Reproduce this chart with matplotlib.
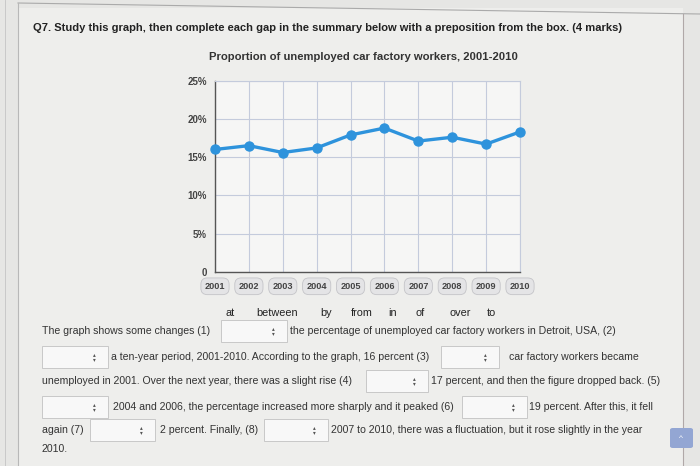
import numpy as np
import matplotlib.pyplot as plt
from matplotlib.patches import Rectangle, FancyBboxPatch
from matplotlib.lines import Line2D

years = ['2001', '2002', '2003', '2004', '2005', '2006', '2007', '2008', '2009', '2010']
unemployed = [16.0, 16.5, 15.6, 16.2, 17.9, 18.8, 17.1, 17.6, 16.7, 18.3]
ytick_vals = [0, 5, 10, 15, 20, 25]
ytick_labels = ['0', '5%', '10%', '15%', '20%', '25%']

question = 'Q7. Study this graph, then complete each gap in the summary below with a preposition from the box. (4 marks)'
chart_title = 'Proportion of unemployed car factory workers, 2001-2010'
word_box = ['at', 'between', 'by', 'from', 'in', 'of', 'over', 'to']

W, H = 700, 466
plt.rcParams['font.family'] = ['Liberation Sans', 'DejaVu Sans']

fig = plt.figure(figsize=(7, 4.66), dpi=100, facecolor='#e6e6e4')

def fx(x):
    return x / W

def fy(y):
    return 1 - y / H

# page card
fig.patches.append(Rectangle((fx(18), 0), fx(683) - fx(18), fy(8), transform=fig.transFigure,
                             facecolor='#eeeeec', edgecolor='none', zorder=-5))
fig.add_artist(Line2D([fx(18), fx(700)], [fy(3), fy(14)], color='#aaaaaa', lw=0.8, zorder=-4))
fig.add_artist(Line2D([fx(18), fx(18)], [fy(3), 0], color='#b8b8b8', lw=0.8, zorder=-4))
fig.add_artist(Line2D([fx(5), fx(5)], [1, 0], color='#c4c4c4', lw=0.6, zorder=-4))
fig.add_artist(Line2D([fx(683), fx(683)], [fy(14), 0], color='#b0a8a8', lw=0.8, zorder=-4))

fig.text(fx(33), fy(28), question, fontsize=8.0, fontweight='bold', color='#222222', va='center')
fig.text(fx(363), fy(57), chart_title, fontsize=8.1, fontweight='bold', color='#333333',
         va='center', ha='center')

# chart
ax = fig.add_axes([fx(215), fy(271.7), fx(520) - fx(215), (271.7 - 80.7) / H])
ax.set_facecolor('#f6f6f5')
x = np.arange(len(years))
ax.plot(x, unemployed, color='#2e93dc', lw=2.4, marker='o', markersize=6.5, zorder=3, clip_on=False)
ax.set_xlim(0, len(years) - 1)
ax.set_ylim(0, 25)
ax.set_xticks(x)
ax.set_yticks(ytick_vals)
ax.set_yticklabels(ytick_labels, fontsize=7, fontweight='bold', color='#444444')
ax.tick_params(length=0, pad=6)
ax.grid(True, color='#c4cbdc', lw=0.8)
for s in ['top', 'right']:
    ax.spines[s].set_color('#c4cbdc')
    ax.spines[s].set_linewidth(0.8)
for s in ['left', 'bottom']:
    ax.spines[s].set_color('#555555')
    ax.spines[s].set_linewidth(1.0)
ax.set_xticklabels([])
for i, yr in enumerate(years):
    ax.annotate(yr, xy=(i, 0), xycoords='data', xytext=(0, -10.5), textcoords='offset points',
                ha='center', va='center', fontsize=6.6, fontweight='bold', color='#444444',
                bbox=dict(boxstyle='round,pad=0.42,rounding_size=0.7', fc='#e4e4e6', ec='#c4c4c8', lw=0.6),
                annotation_clip=False)

# word box
word_x = [230, 277, 326, 362, 393, 420, 460, 491]
for wx, w in zip(word_x, word_box):
    fig.text(fx(wx), fy(313), w, fontsize=7.8, color='#222222', ha='center', va='center')

def dropdown(x0, x1, yc):
    fig.patches.append(Rectangle((fx(x0), fy(yc + 11)), fx(x1) - fx(x0), 22 / H,
                                 transform=fig.transFigure, facecolor='#f8f8f8',
                                 edgecolor='#c8c8c8', lw=0.7, zorder=2))
    fig.text(fx(x1 - 14), fy(yc), '\u25b4', fontsize=4, color='#555555', ha='center', va='bottom')
    fig.text(fx(x1 - 14), fy(yc), '\u25be', fontsize=4, color='#555555', ha='center', va='top')

def txt(x0, yc, s):
    fig.text(fx(x0), fy(yc), s, fontsize=7.6, color='#333333', va='center', ha='left')

y1, y2, y3, y4, y5, y6 = 331, 357, 381, 407, 430, 449
txt(42, y1, 'The graph shows some changes (1)')
dropdown(221, 287, y1)
txt(290, y1, 'the percentage of unemployed car factory workers in Detroit, USA, (2)')
dropdown(42, 108, y2)
txt(111, y2, 'a ten-year period, 2001-2010. According to the graph, 16 percent (3)')
dropdown(441, 499, y2)
txt(509, y2, 'car factory workers became')
txt(42, y3, 'unemployed in 2001. Over the next year, there was a slight rise (4)')
dropdown(366, 428, y3)
txt(431, y3, '17 percent, and then the figure dropped back. (5)')
dropdown(42, 108, y4)
txt(113, y4, '2004 and 2006, the percentage increased more sharply and it peaked (6)')
dropdown(462, 527, y4)
txt(529, y4, '19 percent. After this, it fell')
txt(42, y5, 'again (7)')
dropdown(90, 155, y5)
txt(160, y5, '2 percent. Finally, (8)')
dropdown(264, 328, y5)
txt(331, y5, '2007 to 2010, there was a fluctuation, but it rose slightly in the year')
txt(42, y6, '2010.')

# scroll-to-top button
fig.patches.append(FancyBboxPatch((fx(670), fy(448)), fx(23), 20 / H, transform=fig.transFigure,
                                  boxstyle='round,pad=0,rounding_size=0.004', facecolor='#93a6d3',
                                  edgecolor='none', zorder=3))
fig.text(fx(681), fy(438), '^', fontsize=6, color='white', ha='center', va='center', zorder=4)

fig.savefig('out.png', dpi=100, facecolor=fig.get_facecolor())
